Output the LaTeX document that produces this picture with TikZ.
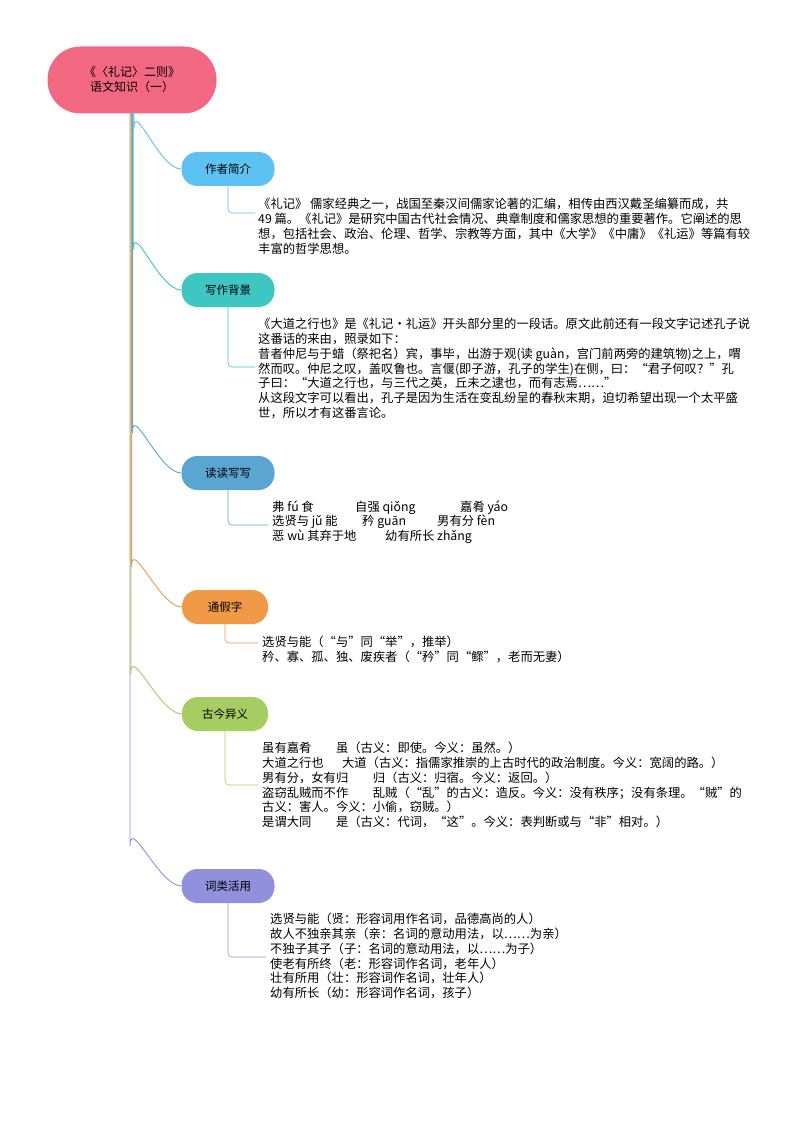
\documentclass[tikz,border=0pt]{standalone}
\usepackage{fontspec}
\setmainfont{Noto Sans CJK SC}
\begin{document}
\begin{tikzpicture}[x=1pt,y=-1pt,
  pill/.style={rounded corners=16pt,minimum height=34pt,text=black,font=\fontsize{11.5}{13}\selectfont,inner sep=0pt},
  body/.style={anchor=north west,align=left,inner sep=0pt,font=\fontsize{12.3}{14.8}\selectfont},
  br/.style={line width=0.9pt}]
\useasboundingbox (0,0) rectangle (794,1123);
\definecolor{cr}{HTML}{F26882}
\definecolor{c1}{HTML}{5BC2F2}
\definecolor{c2}{HTML}{3DC6C2}
\definecolor{c3}{HTML}{5BA5D2}
\definecolor{c4}{HTML}{F09A48}
\definecolor{c5}{HTML}{A6CD62}
\definecolor{c6}{HTML}{9090DC}
\node[fill=cr,rounded corners=33pt,minimum width=169pt,minimum height=67pt,align=center,font=\fontsize{12}{15}\selectfont,inner sep=0pt] (root) at (132,80) {《〈礼记〉二则》\\语文知识（一）};
\node[pill,fill=c1,minimum width=93pt] (n1) at (228,169) {作者简介};
\node[pill,fill=c2,minimum width=93pt] (n2) at (228,290) {写作背景};
\node[pill,fill=c3,minimum width=93pt] (n3) at (228,473) {读读写写};
\node[pill,fill=c4,minimum width=86pt] (n4) at (225,607) {通假字};
\node[pill,fill=c5,minimum width=86pt] (n5) at (225,714) {古今异义};
\node[pill,fill=c6,minimum width=93pt] (n6) at (228,886) {词类活用};
\coordinate (r) at (130,114);
\foreach \n/\c/\dx in {n6/c6/0,n5/c5/1,n4/c4/2,n3/c3/3,n2/c2/4,n1/c1/5}{
  \path (r) ++(\dx*0.8,0) coordinate (\n s);
  \path (\n s |- \n.west) ++(0,-40) coordinate (\n a);
  \draw[br,\c] (r) -- (\n s) -- (\n a) .. controls ([yshift=30pt]\n a) and ([xshift=-22pt]\n.west) .. (\n.west);
}
\node[body] (t1) at (258,198) {《礼记》 儒家经典之一，战国至秦汉间儒家论著的汇编，相传由西汉戴圣编纂而成，共\\49 篇。《礼记》是研究中国古代社会情况、典章制度和儒家思想的重要著作。它阐述的思\\想，包括社会、政治、伦理、哲学、宗教等方面，其中《大学》《中庸》《礼运》等篇有较\\丰富的哲学思想。};
\node[body] (t2) at (258,318) {《大道之行也》是《礼记·礼运》开头部分里的一段话。原文此前还有一段文字记述孔子说\\这番话的来由，照录如下：\\昔者仲尼与于蜡（祭祀名）宾，事毕，出游于观(读 guàn，宫门前两旁的建筑物)之上，喟\\然而叹。仲尼之叹，盖叹鲁也。言偃(即子游，孔子的学生)在侧，曰：“君子何叹？”孔\\子曰：“大道之行也，与三代之英，丘未之逮也，而有志焉……”\\从这段文字可以看出，孔子是因为生活在变乱纷呈的春秋末期，迫切希望出现一个太平盛\\世，所以才有这番言论。};
\node[body] (a1) at (272,501) {弗 fú 食};
\node[body] (a2) at (355,501) {自强 qiǒng};
\node[body] (a3) at (460,501) {嘉肴 yáo};
\node[body] (b1) at (272,515) {选贤与 jǔ 能};
\node[body] (b2) at (362,515) {矜 guān};
\node[body] (b3) at (437,515) {男有分 fèn};
\node[body] (c1n) at (272,530) {恶 wù 其弃于地};
\node[body] (c2n) at (385,530) {幼有所长 zhǎng};
\node[body] (t4) at (262,636) {选贤与能（“与”同“举”，推举）\\矜、寡、孤、独、废疾者（“矜”同“鳏”，老而无妻）};
\node[body] (t5) at (262,742) {虽有嘉肴\hspace{2em}虽（古义：即使。今义：虽然。）\\大道之行也\hspace{1.5em}大道（古义：指儒家推崇的上古时代的政治制度。今义：宽阔的路。）\\男有分，女有归\hspace{2em}归（古义：归宿。今义：返回。）\\盗窃乱贼而不作\hspace{2em}乱贼（“乱”的古义：造反。今义：没有秩序；没有条理。“贼”的\\古义：害人。今义：小偷，窃贼。）\\是谓大同\hspace{2em}是（古义：代词，“这”。今义：表判断或与“非”相对。）};
\node[body] (t6) at (270,913) {选贤与能（贤：形容词用作名词，品德高尚的人）\\故人不独亲其亲（亲：名词的意动用法，以……为亲）\\不独子其子（子：名词的意动用法，以……为子）\\使老有所终（老：形容词作名词，老年人）\\壮有所用（壮：形容词作名词，壮年人）\\幼有所长（幼：形容词作名词，孩子）};
\foreach \n/\c/\y/\x in {n1/c1/213/255,n2/c2/367/255,n3/c3/525/268,n4/c4/643/258,n5/c5/785/258,n6/c6/957/266}{
  \coordinate (\n e) at (\x,\y);
  \draw[\c,line width=0.6pt,rounded corners=4pt] (\n.south) -- (\n.south |- \n e) -- (\n e);
}
\end{tikzpicture}
\end{document}
